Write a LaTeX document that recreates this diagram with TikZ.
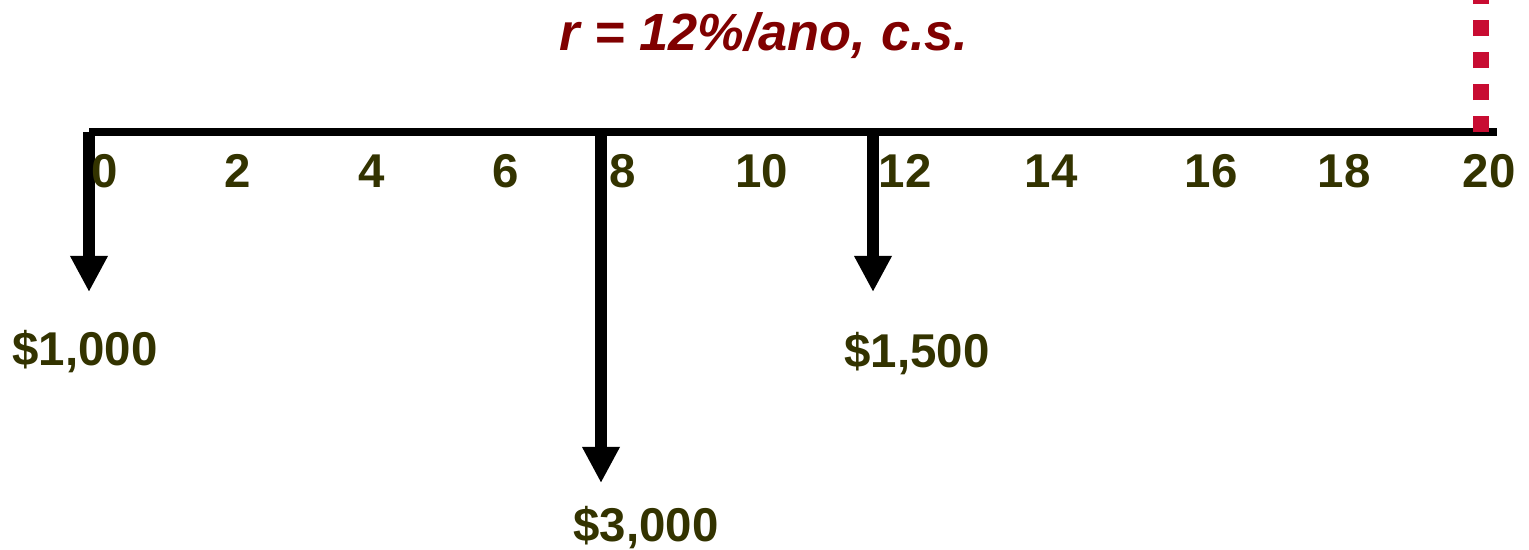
\documentclass[tikz,border=0pt]{standalone}
\usepackage{fontspec}
\setmainfont{Liberation Sans}
\usetikzlibrary{arrows.meta}
\definecolor{ratered}{RGB}{128,0,0}
\definecolor{olivetext}{RGB}{51,51,0}
\definecolor{dotred}{RGB}{200,12,50}
\tikzset{
  period/.style={anchor=base,inner sep=0pt,text=olivetext,font=\fontsize{27}{32}\selectfont\bfseries},
  amount/.style={period},
  flow/.style={line width=6.8pt,-{Triangle[length=20.5pt,width=20pt]}},
}
\begin{document}
\begin{tikzpicture}[x=0.02cm,y=-0.02cm]
            \useasboundingbox (0,0) rectangle (1529,549);

            \coordinate (s) at (89,132);
            \coordinate (e) at (1497,132);
            \coordinate (m) at (1481,132);
            \coordinate (u) at (1481,0);

            \coordinate (c0) at (89,132);
            \coordinate (c8) at (601,132);
            \coordinate (c12) at (873,132);
            \coordinate (h0) at (89,292);
            \coordinate (h8) at (601,483);
            \coordinate (h12) at (873,292);

            \draw[line width=4.55pt] (s) -- (e);
            \draw[dotred,line width=9.1pt,dash pattern=on 9.1pt off 9.1pt] (m) -- (u);

            \draw[flow] (c0) -- (h0);
            \draw[flow] (c8) -- (h8);
            \draw[flow] (c12) -- (h12);

            \foreach \t/\x in {0/105,2/238,4/372,6/506,8/623,10/762,12/905,14/1051,16/1211,18/1344,20/1489}
              \node[period] (p\t) at (\x,187) {\t};

            \node[amount] (v0) at (85,365) {\$1,000};
            \node[amount] (v8) at (646,541) {\$3,000};
            \node[amount] (v12) at (917,367) {\$1,500};

            \node[anchor=base,inner sep=0pt,text=ratered,font=\fontsize{29.8}{36}\selectfont\bfseries\itshape] (rate) at (764,50) {r = 12\%/ano, c.s.};
        \end{tikzpicture}
\end{document}
